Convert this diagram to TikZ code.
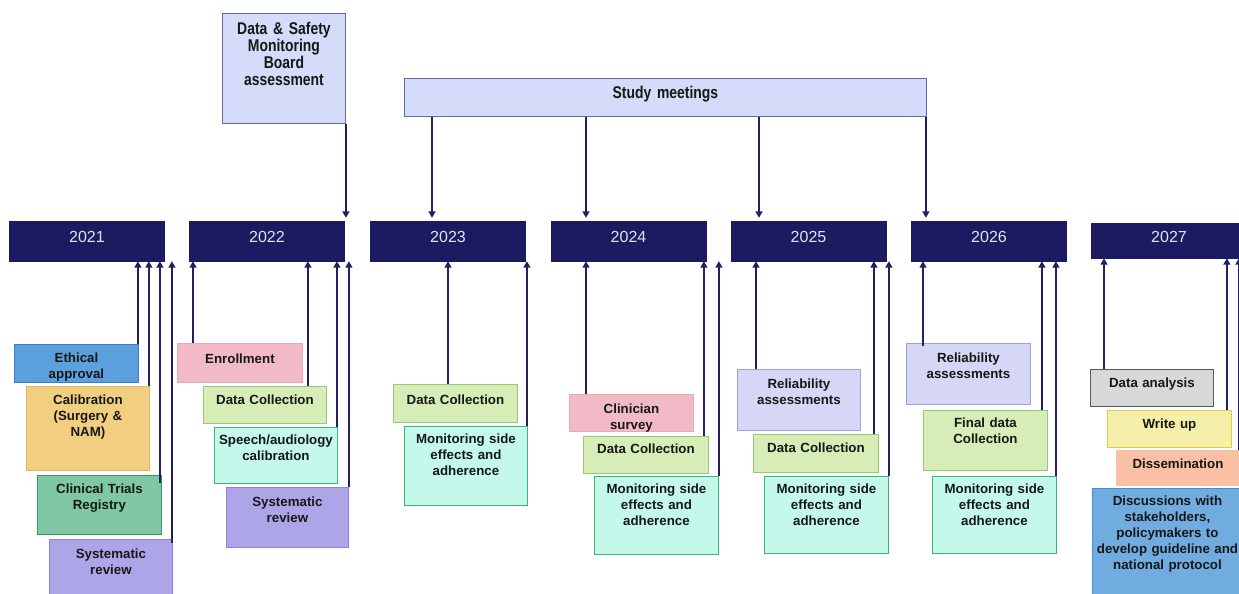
\documentclass[tikz,border=0pt]{standalone}
\usepackage{fontspec}
\setmainfont{Liberation Sans}
\newfontfamily\narrowfont{Liberation Sans}[FakeStretch=0.82]
\usepackage{xcolor}
\usetikzlibrary{arrows.meta, positioning}

\definecolor{navy}{RGB}{28,26,96}
\definecolor{arrowc}{RGB}{34,32,98}
\definecolor{yeartxt}{RGB}{225,228,240}
\definecolor{txtc}{RGB}{22,24,22}
\definecolor{topfill}{RGB}{212,220,250}
\definecolor{topline}{RGB}{96,104,176}
\definecolor{ethfill}{RGB}{92,160,222}
\definecolor{ethline}{RGB}{60,126,196}
\definecolor{calfill}{RGB}{242,206,128}
\definecolor{calline}{RGB}{228,186,96}
\definecolor{ctrfill}{RGB}{128,200,164}
\definecolor{ctrline}{RGB}{56,150,104}
\definecolor{srfill}{RGB}{172,166,232}
\definecolor{srline}{RGB}{140,132,214}
\definecolor{enrfill}{RGB}{242,186,198}
\definecolor{enrline}{RGB}{232,168,184}
\definecolor{dcfill}{RGB}{214,237,184}
\definecolor{dcline}{RGB}{150,200,120}
\definecolor{monfill}{RGB}{196,248,234}
\definecolor{monline}{RGB}{60,180,120}
\definecolor{relfill}{RGB}{214,214,246}
\definecolor{relline}{RGB}{160,160,224}
\definecolor{dafill}{RGB}{216,216,216}
\definecolor{daline}{RGB}{90,90,90}
\definecolor{wufill}{RGB}{244,240,170}
\definecolor{wuline}{RGB}{230,200,80}
\definecolor{disfill}{RGB}{249,192,166}
\definecolor{discfill}{RGB}{112,172,224}
\definecolor{discline}{RGB}{70,140,210}

\begin{document}
\begin{tikzpicture}[x=1pt, y=-1pt,
    year/.style={fill=navy, draw=navy, minimum width=155pt, minimum height=40pt, text depth=8pt, text=yeartxt, font=\fontsize{16}{19}\selectfont},
    task/.style={draw, line width=0.9pt, anchor=north west, inner xsep=0pt, inner ysep=0pt, align=center, text height=18pt, text=txtc, font=\bfseries\fontsize{13.3}{16}\selectfont},
    topbox/.style={task, fill=topfill, draw=topline, font=\narrowfont\bfseries\fontsize{17}{17}\selectfont},
    uparr/.style={line width=2.5pt, draw=arrowc, -{Triangle[width=7pt,length=6.5pt]}},
    downarr/.style={uparr, shorten >=3pt}]
    \useasboundingbox (0,0) rectangle (1239,594);
    \clip (0,0) rectangle (1239,594);

    \node[year] (y2021) at (87,241) {2021};
    \node[year] (y2022) at (267,241) {2022};
    \node[year] (y2023) at (448,241) {2023};
    \node[year] (y2024) at (628.5,241) {2024};
    \node[year] (y2025) at (808.5,241) {2025};
    \node[year] (y2026) at (989,241) {2026};
    \node[year, minimum height=35pt] (y2027) at (1169,240.5) {2027};

    \node[topbox, text width=123pt, text height=21pt, text depth=89pt] (dsmb) at (222,13) {Data \& Safety\\Monitoring\\Board\\assessment};
    \node[topbox, text width=522pt, text height=20pt, text depth=18pt] (meet) at (404,78) {Study meetings};

    % 2021
    \node[task, fill=ethfill, draw=ethline, text width=124pt, text depth=20pt] (eth21) at (14,344) {Ethical\\approval};
    \node[task, fill=calfill, draw=calline, text width=123pt, text depth=66pt] (cal21) at (26,386) {Calibration\\(Surgery \&\\NAM)};
    \node[task, fill=ctrfill, draw=ctrline, text width=124pt, text depth=41pt] (reg21) at (37,475) {Clinical Trials\\Registry};
    \node[task, fill=srfill, draw=srline, text width=123pt, text height=19pt, text depth=52pt] (rev21) at (49,539) {Systematic\\review};

    % 2022
    \node[task, fill=enrfill, draw=enrline, text width=125pt, text height=20pt, text depth=19pt] (enr22) at (177,343) {Enrollment};
    \node[task, fill=dcfill, draw=dcline, text width=123pt, text depth=19pt] (dc22) at (203,386) {Data Collection};
    \node[task, fill=monfill, draw=monline, text width=123pt, text height=17pt, text depth=39pt] (cal22) at (214,427) {Speech/audiology\\calibration};
    \node[task, fill=srfill, draw=srline, text width=122pt, text height=19pt, text depth=41pt] (rev22) at (226,487) {Systematic\\review};

    % 2023
    \node[task, fill=dcfill, draw=dcline, text width=124pt, text height=20pt, text depth=18pt] (dc23) at (393,384) {Data Collection};
    \node[task, fill=monfill, draw=monline, text width=123pt, text height=17pt, text depth=62pt] (mon23) at (404,426) {Monitoring side\\effects and\\adherence};

    % 2024
    \node[task, fill=enrfill, draw=enrline, text width=124pt, text height=19pt, text depth=18pt] (surv24) at (569,394) {Clinician\\survey};
    \node[task, fill=dcfill, draw=dcline, text width=125pt, text height=17pt, text depth=20pt] (dc24) at (583,436) {Data Collection};
    \node[task, fill=monfill, draw=monline, text width=124pt, text height=17pt, text depth=61pt] (mon24) at (594,476) {Monitoring side\\effects and\\adherence};

    % 2025
    \node[task, fill=relfill, draw=relline, text width=123pt, text height=19pt, text depth=42pt] (rel25) at (737,369) {Reliability\\assessments};
    \node[task, fill=dcfill, draw=dcline, text width=125pt, text depth=20pt] (dc25) at (753,434) {Data Collection};
    \node[task, fill=monfill, draw=monline, text width=124pt, text height=17pt, text depth=60pt] (mon25) at (764,476) {Monitoring side\\effects and\\adherence};

    % 2026
    \node[task, fill=relfill, draw=relline, text width=124pt, text height=19pt, text depth=42pt] (rel26) at (906,343) {Reliability\\assessments};
    \node[task, fill=dcfill, draw=dcline, text width=124pt, text height=17pt, text depth=43pt] (dc26) at (923,410) {Final data\\Collection};
    \node[task, fill=monfill, draw=monline, text width=124pt, text height=17pt, text depth=60pt] (mon26) at (932,476) {Monitoring side\\effects and\\adherence};

    % 2027
    \node[task, fill=dafill, draw=daline, text width=123pt, text depth=19pt] (ana27) at (1090,369) {Data analysis};
    \node[task, fill=wufill, draw=wuline, text width=124pt, text depth=19pt] (wu27) at (1107,410) {Write up};
    \node[task, fill=disfill, draw=disfill, text width=123pt, text depth=17pt] (dis27) at (1116,450) {Dissemination};
    \node[task, fill=discfill, draw=discline, text width=150pt, text height=17pt, text depth=100pt] (talk27) at (1092,488) {Discussions with\\stakeholders,\\policymakers to\\develop guideline and\\national protocol};

    \draw[downarr] (dsmb.south east) -- (dsmb.south east |- y2022.north);
    \draw[downarr] ([xshift=28pt]meet.south west) -- ([xshift=28pt]meet.south west |- y2023.north);
    \draw[downarr] ([xshift=182pt]meet.south west) -- ([xshift=182pt]meet.south west |- y2024.north);
    \draw[downarr] ([xshift=355pt]meet.south west) -- ([xshift=355pt]meet.south west |- y2025.north);
    \draw[downarr] ([xshift=-1pt]meet.south east) -- ([xshift=-1pt]meet.south east |- y2026.north);

    \draw[uparr] ([xshift=-1pt]eth21.north east) -- ([xshift=-1pt]eth21.north east |- y2021.south);
    \draw[uparr] ([xshift=-1pt]cal21.north east) -- ([xshift=-1pt]cal21.north east |- y2021.south);
    \draw[uparr] ([xshift=-2pt,yshift=-8pt]reg21.north east) -- ([xshift=-2pt]reg21.north east |- y2021.south);
    \draw[uparr] ([xshift=-1pt,yshift=-4pt]rev21.north east) -- ([xshift=-1pt]rev21.north east |- y2021.south);

    \draw[uparr] ([xshift=16pt]enr22.north west) -- ([xshift=16pt]enr22.north west |- y2022.south);
    \draw[uparr] ([xshift=-19pt]dc22.north east) -- ([xshift=-19pt]dc22.north east |- y2022.south);
    \draw[uparr] ([xshift=-1pt]cal22.north east) -- ([xshift=-1pt]cal22.north east |- y2022.south);
    \draw[uparr] (rev22.north east) -- (rev22.north east |- y2022.south);

    \draw[uparr] ([xshift=55pt]dc23.north west) -- ([xshift=55pt]dc23.north west |- y2023.south);
    \draw[uparr] ([xshift=-1pt]mon23.north east) -- ([xshift=-1pt]mon23.north east |- y2023.south);

    \draw[uparr] ([xshift=17pt]surv24.north west) -- ([xshift=17pt]surv24.north west |- y2024.south);
    \draw[uparr] ([xshift=-5pt]dc24.north east) -- ([xshift=-5pt]dc24.north east |- y2024.south);
    \draw[uparr] (mon24.north east) -- (mon24.north east |- y2024.south);

    \draw[uparr] ([xshift=19pt]rel25.north west) -- ([xshift=19pt]rel25.north west |- y2025.south);
    \draw[uparr] ([xshift=-5pt]dc25.north east) -- ([xshift=-5pt]dc25.north east |- y2025.south);
    \draw[uparr] (mon25.north east) -- (mon25.north east |- y2025.south);

    \draw[uparr] ([xshift=17pt,yshift=-3pt]rel26.north west) -- ([xshift=17pt]rel26.north west |- y2026.south);
    \draw[uparr] ([xshift=-6pt]dc26.north east) -- ([xshift=-6pt]dc26.north east |- y2026.south);
    \draw[uparr] ([xshift=-1pt]mon26.north east) -- ([xshift=-1pt]mon26.north east |- y2026.south);

    \draw[uparr] ([xshift=14pt]ana27.north west) -- ([xshift=14pt]ana27.north west |- y2027.south);
    \draw[uparr] ([xshift=-5pt]wu27.north east) -- ([xshift=-5pt]wu27.north east |- y2027.south);
    \draw[uparr] ([xshift=-1pt]dis27.north east) -- ([xshift=-1pt]dis27.north east |- y2027.south);
\end{tikzpicture}
\end{document}
